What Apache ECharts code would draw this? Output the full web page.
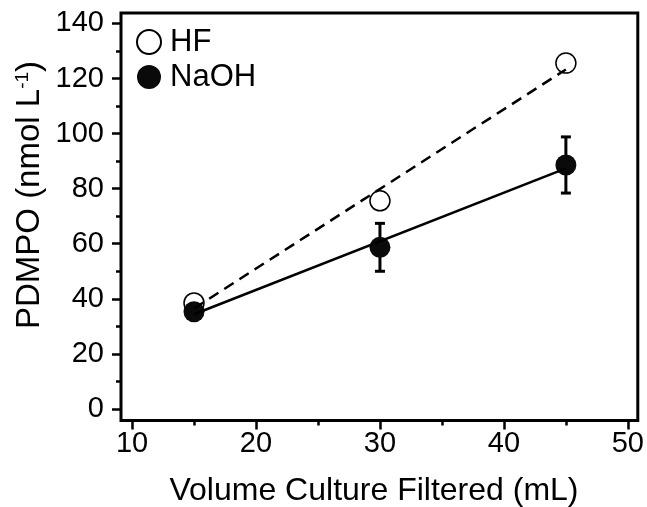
<!DOCTYPE html>
<html><head><meta charset="utf-8">
<script src="https://cdn.jsdelivr.net/npm/echarts@6/dist/echarts.min.js"></script>
<style>html,body{margin:0;padding:0;background:#fff}#c{width:647px;height:507px}</style>
</head><body><div id="c"></div>
<script>
// Data
const volumes = [15, 30, 45];
const hfValues = [38.5, 75.6, 125.6];
const naohValues = [35.3, 58.7, 88.6];
const naohErrors = [0, 8.7, 10.2];
const hfFitX = [15, 45];
const hfFitY = [36.5, 123.3];
const naohFitX = [15, 45];
const naohFitY = [34.4, 87.4];
const xMajorTicks = [10, 20, 30, 40, 50];
const xMinorTicks = [15, 25, 35, 45];
const yMajorTicks = [0, 20, 40, 60, 80, 100, 120, 140];
const yMinorTicks = [10, 30, 50, 70, 90, 110, 130];

const FONT = 'Liberation Sans, Arial, sans-serif';
const chart = echarts.init(document.getElementById('c'));

const xBase = {type: 'value', min: 9.11, max: 50.8, position: 'bottom', splitLine: {show: false}, axisLine: {show: false, onZero: false}};
const yBase = {type: 'value', min: -4.2, max: 143.8, position: 'left', splitLine: {show: false}, axisLine: {show: false, onZero: false}};

chart.setOption({
  animation: false,
  backgroundColor: '#fff',
  grid: {left: 121, right: 9, top: 13, bottom: 86.5, show: true, borderColor: '#000', borderWidth: 3, backgroundColor: 'transparent'},
  legend: {
    data: ['HF', 'NaOH'], orient: 'vertical', left: 131, top: 21,
    itemWidth: 24, itemHeight: 24, itemGap: 3,
    textStyle: {fontFamily: FONT, fontSize: 31, color: '#000', lineHeight: 32, padding: [0, 0, 0, 4]}
  },
  xAxis: [
    Object.assign({}, xBase, {
      axisTick: {show: true, length: 9, lineStyle: {color: '#000', width: 2.5}, customValues: xMajorTicks},
      axisLabel: {show: true, margin: 9, fontFamily: FONT, fontSize: 29, color: '#000', customValues: xMajorTicks}
    }),
    Object.assign({}, xBase, {
      axisTick: {show: true, length: 5, lineStyle: {color: '#000', width: 2.5}, customValues: xMinorTicks},
      axisLabel: {show: false}
    })
  ],
  yAxis: [
    Object.assign({}, yBase, {
      axisTick: {show: true, length: 9, lineStyle: {color: '#000', width: 2.5}, customValues: yMajorTicks},
      axisLabel: {show: true, margin: 17, fontFamily: FONT, fontSize: 29, color: '#000', customValues: yMajorTicks}
    }),
    Object.assign({}, yBase, {
      axisTick: {show: true, length: 5, lineStyle: {color: '#000', width: 2.5}, customValues: yMinorTicks},
      axisLabel: {show: false}
    })
  ],
  graphic: [
    {
      type: 'text', x: 374, y: 491,
      style: {text: 'Volume Culture Filtered (mL)', fontFamily: FONT, fontSize: 32, fill: '#000', align: 'center', verticalAlign: 'middle'}
    },
    {
      type: 'text', x: 30, y: 195, rotation: Math.PI / 2,
      style: {
        text: '{a|PDMPO (nmol L}{s|-1}{a|)}',
        rich: {a: {fontFamily: FONT, fontSize: 33, fill: '#000'}, s: {fontFamily: FONT, fontSize: 19, fill: '#000', verticalAlign: 'top', padding: [0, 0, 13, 0]}},
        align: 'center', verticalAlign: 'middle', fill: '#000'
      }
    }
  ],
  series: [
    {
      type: 'custom', name: 'err', z: 2, silent: true,
      data: volumes.map((v, i) => [v, naohValues[i] - naohErrors[i], naohValues[i] + naohErrors[i]]),
      renderItem: function (params, api) {
        const lo = api.coord([api.value(0), api.value(1)]);
        const hi = api.coord([api.value(0), api.value(2)]);
        const w = 5;
        const st = {stroke: '#000', lineWidth: 3};
        return {type: 'group', children: [
          {type: 'line', shape: {x1: lo[0], y1: lo[1], x2: hi[0], y2: hi[1]}, style: st},
          {type: 'line', shape: {x1: lo[0] - w, y1: lo[1], x2: lo[0] + w, y2: lo[1]}, style: st},
          {type: 'line', shape: {x1: hi[0] - w, y1: hi[1], x2: hi[0] + w, y2: hi[1]}, style: st}
        ]};
      }
    },
    {
      type: 'scatter', name: 'HF', z: 3, symbol: 'circle', symbolSize: 20,
      itemStyle: {color: 'rgba(255,255,255,0)', borderColor: '#000', borderWidth: 1.5, opacity: 1},
      data: volumes.map((v, i) => [v, hfValues[i]])
    },
    {
      type: 'scatter', name: 'NaOH', z: 4, symbol: 'circle', symbolSize: 21,
      itemStyle: {color: '#0a0a0a', borderWidth: 0, opacity: 1},
      data: volumes.map((v, i) => [v, naohValues[i]])
    },
    {
      type: 'line', name: 'hffit', z: 5, symbol: 'none', silent: true,
      lineStyle: {color: '#000', width: 2.5, type: [11, 7]},
      data: hfFitX.map((v, i) => [v, hfFitY[i]])
    },
    {
      type: 'line', name: 'naohfit', z: 5, symbol: 'none', silent: true,
      lineStyle: {color: '#000', width: 2.5},
      data: naohFitX.map((v, i) => [v, naohFitY[i]])
    }
  ]
});
</script></body></html>
